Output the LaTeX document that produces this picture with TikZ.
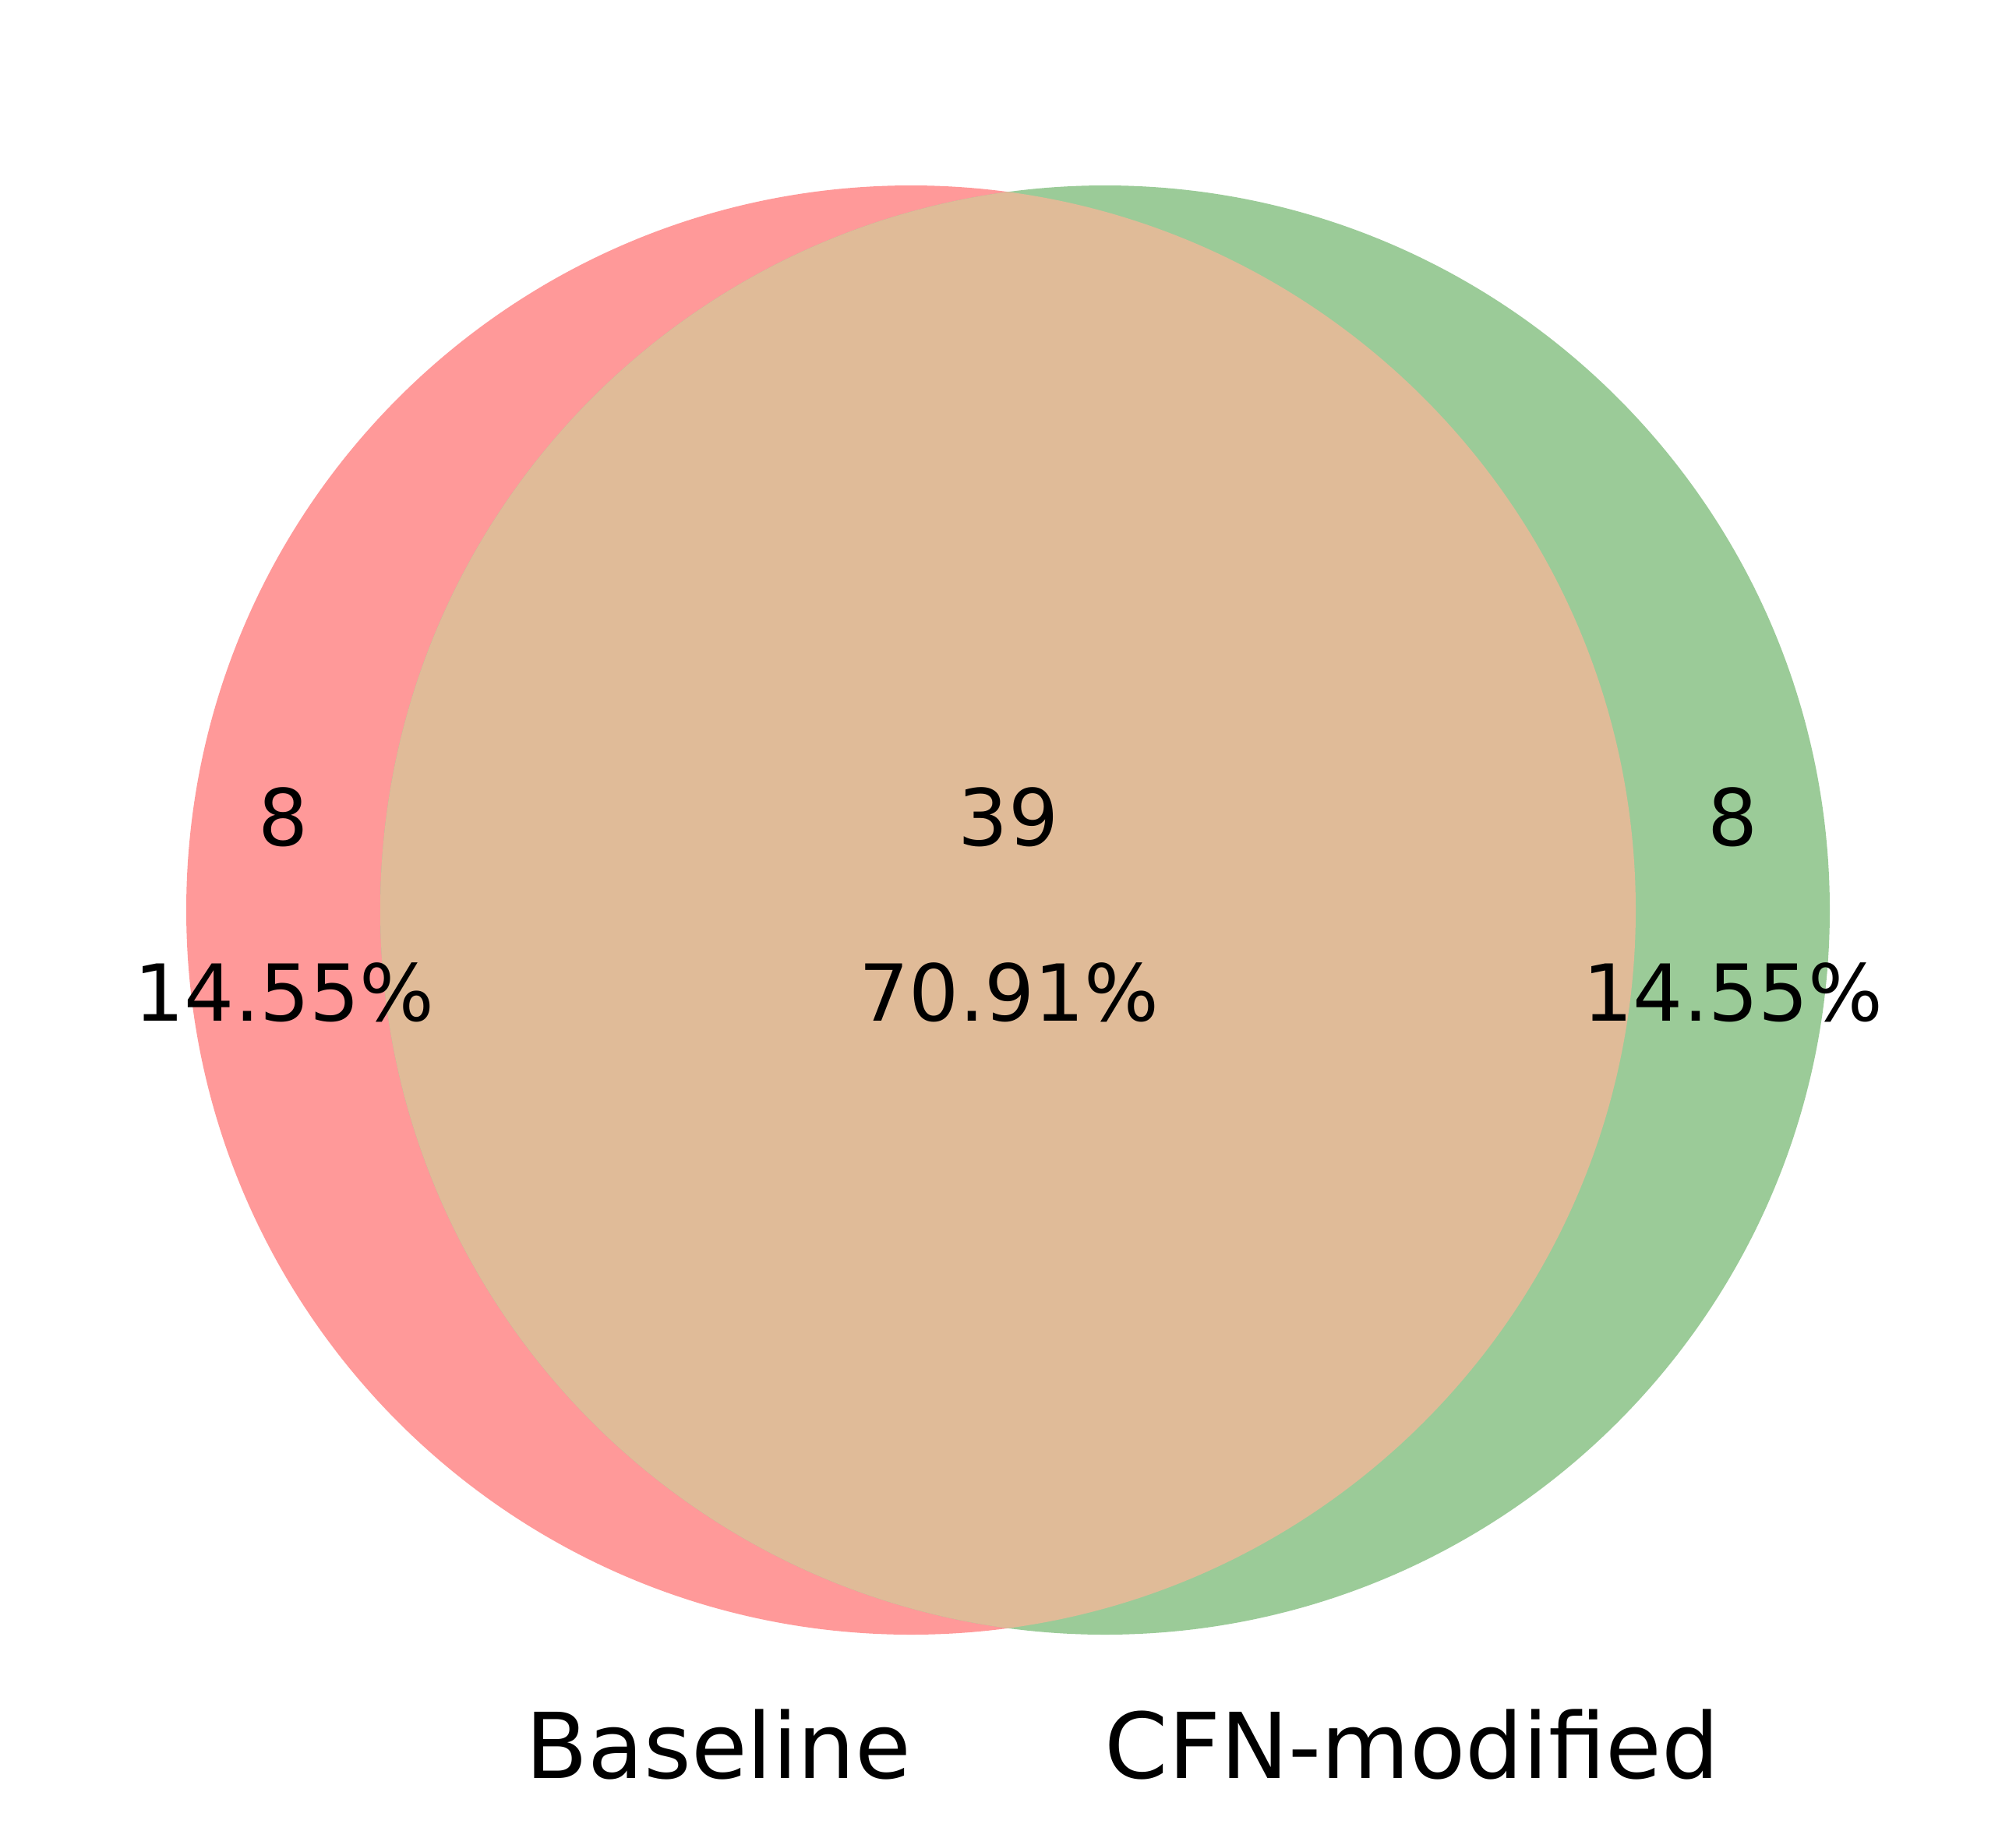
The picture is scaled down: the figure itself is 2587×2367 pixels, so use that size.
\documentclass[tikz,border=0pt]{standalone}
\usepackage{fontspec}
\setmainfont{DejaVu Sans}
\definecolor{cred}{HTML}{FF9999}
\definecolor{cgreen}{HTML}{9BCB98}
\definecolor{cmix}{HTML}{E0BB98}
\begin{document}
\begin{tikzpicture}[x=0.24pt,y=-0.24pt,
  numlbl/.style={anchor=base,inner sep=0pt,font=\fontsize{24.2pt}{30pt}\selectfont},
  setlbl/.style={anchor=base,inner sep=0pt,font=\fontsize{28pt}{33pt}\selectfont}]
\useasboundingbox (0,0) rectangle (2587,2367);
\fill[white] (0,0) rectangle (2587,2367);
\coordinate (cA) at (1169,1168);
\coordinate (cB) at (1418,1168);
\fill[cred] (cA) circle [radius=223.2pt];
\fill[cgreen] (cB) circle [radius=223.2pt];
\begin{scope}
\clip (cA) circle [radius=223.2pt];
\fill[cmix] (cB) circle [radius=223.2pt];
\end{scope}
\node[numlbl] (n10) at (364,1085) {8};
\node[numlbl] (p10) at (365,1310) {14.55\%};
\node[numlbl] (n11) at (1294,1085) {39};
\node[numlbl] (p11) at (1295,1310) {70.91\%};
\node[numlbl] (n01) at (2224,1085) {8};
\node[numlbl] (p01) at (2224,1310) {14.55\%};
\node[setlbl] (lA) at (922,2282) {Baseline};
\node[setlbl] (lB) at (1812,2282) {CFN-modified};
\end{tikzpicture}
\end{document}
